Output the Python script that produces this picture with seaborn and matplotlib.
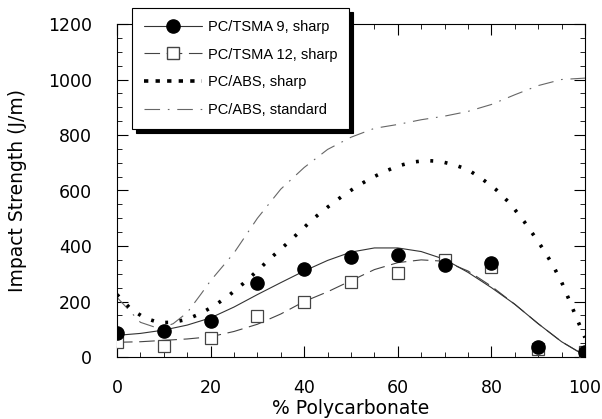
import numpy as np
import pandas as pd
import matplotlib
matplotlib.use("Agg")
import matplotlib.pyplot as plt
from matplotlib.lines import Line2D
from matplotlib.patches import Shadow
from matplotlib.ticker import MultipleLocator
import seaborn as sns

# measured data points
pc_pts = [0, 10, 20, 30, 40, 50, 60, 70, 80, 90, 100]
tsma9_pts = [85, 95, 131, 266, 317, 361, 367, 330, 338, 35, 17]
tsma12_pts = [53, 41, 69, 146, 197, 272, 302, 348, 324, 30, 17]

# fitted curves
curve_x = [0, 5, 10, 15, 20, 25, 30, 35, 40, 45, 50, 55, 60, 65, 70, 75, 80, 85, 90, 95, 100]
tsma9_fit = [78, 85, 97, 115, 141, 180, 225, 268, 310, 348, 378, 393, 393, 380, 352, 305, 250, 190, 120, 55, 5]
tsma12_fit = [53, 55, 60, 65, 73, 92, 118, 155, 200, 235, 275, 315, 340, 350, 345, 310, 255, 190, 120, 55, 5]

abs_sharp_x = [0, 3, 6, 9, 12, 15, 18, 21, 24, 27, 30, 33, 36, 39, 42, 45, 48, 51, 54, 57, 60, 63, 66,
               69, 72, 75, 78, 81, 84, 87, 89, 91, 93, 95, 97, 98.3, 100]
abs_sharp_y = [225, 172, 140, 124, 125, 136, 158, 187, 223, 265, 311, 359, 404, 451, 499, 540, 578, 612, 642, 667,
               688, 702, 708, 705, 693, 675, 642, 603, 553, 488, 440, 390, 335, 270, 190, 136, 70]

abs_std_x = [0, 5, 8, 10, 12, 15, 18, 20, 25, 30, 35, 40, 45, 50, 55, 60, 65, 70, 75, 80, 85, 90, 95, 100]
abs_std_y = [215, 125, 108, 108, 120, 160, 228, 275, 375, 500, 605, 683, 748, 792, 824, 838, 855, 868, 885,
             910, 945, 978, 1000, 1005]

labels = ["PC/TSMA 9, sharp", "PC/TSMA 12, sharp", "PC/ABS, sharp", "PC/ABS, standard"]

sns.set_style("ticks", {"text.color": "black", "axes.labelcolor": "black",
                        "xtick.color": "black", "ytick.color": "black",
                        "axes.edgecolor": "black"})
plt.rcParams['font.family'] = ['DejaVu Sans']

fig = plt.figure(figsize=(6.02, 4.19), dpi=100)
ax = fig.add_axes([117/602, 1 - 357/419, (585-117)/602, (357-24)/419])

lw_thin = 0.8
sty_t9 = dict(color="#333333", lw=lw_thin, linestyle="-")
sty_t12 = dict(color="#444444", lw=lw_thin, linestyle=(0, (14, 6)))
sty_abs_s = dict(color="black", lw=2.6, linestyle=(0, (0.8, 3.2)))
sty_abs_std = dict(color="#666666", lw=lw_thin, linestyle=(0, (14, 7, 1.5, 7)))

sns.lineplot(x=abs_std_x, y=abs_std_y, ax=ax, **sty_abs_std)
sns.lineplot(x=abs_sharp_x, y=abs_sharp_y, ax=ax, **sty_abs_s)
sns.lineplot(x=curve_x, y=tsma12_fit, ax=ax, **sty_t12)
sns.lineplot(x=curve_x, y=tsma9_fit, ax=ax, **sty_t9)

ax.plot(pc_pts, tsma12_pts, linestyle="none", marker="s", markersize=8.5,
        markerfacecolor="white", markeredgecolor="#444444", markeredgewidth=0.9, zorder=4)
ax.plot(pc_pts, tsma9_pts, linestyle="none", marker="o", markersize=9.5,
        markerfacecolor="black", markeredgecolor="black", zorder=5)

ax.set_xlim(0, 100)
ax.set_ylim(0, 1200)
ax.xaxis.set_major_locator(MultipleLocator(20))
ax.xaxis.set_minor_locator(MultipleLocator(5))
ax.yaxis.set_major_locator(MultipleLocator(200))
ax.yaxis.set_minor_locator(MultipleLocator(50))
ax.tick_params(which="both", direction="in", top=True, right=True, labelsize=12.5,
               color="black", labelcolor="black")
ax.tick_params(axis="x", which="major", pad=16)
ax.tick_params(axis="y", which="major", pad=18)
ax.tick_params(which="major", length=8, width=0.8)
ax.tick_params(which="minor", length=3.5, width=0.6)
for s in ax.spines.values():
    s.set_linewidth(0.8)
    s.set_color("black")
    s.set_visible(True)
ax.set_xlabel("% Polycarbonate", fontsize=13.5, labelpad=1, color="black")
ax.set_ylabel("Impact Strength (J/m)", fontsize=13.5, labelpad=15, color="black")

handles = [
    Line2D([], [], marker="o", markersize=9.5, markerfacecolor="black", markeredgecolor="black", **sty_t9),
    Line2D([], [], marker="s", markersize=8, markerfacecolor="white", markeredgecolor="#444444", **sty_t12),
    Line2D([], [], color="black", lw=2.6, linestyle=(0, (1.2, 2.0))),
    Line2D([], [], **sty_abs_std),
]
leg = fig.legend(handles, labels, loc="upper left", bbox_to_anchor=(132/602, 1 - 8/419),
                 borderaxespad=0, prop={"family": "Liberation Sans", "size": 10.5},
                 frameon=True, fancybox=False, framealpha=1, edgecolor="black",
                 shadow=False, handlelength=4.0, labelspacing=0.95,
                 borderpad=0.8, handletextpad=0.4, labelcolor="black")
leg.get_frame().set_linewidth(0.8)
leg.set_zorder(5)

fig.canvas.draw()
sh = Shadow(leg.legendPatch, 3.2, -3.2, color="black", alpha=1, zorder=4.9)
fig.add_artist(sh)

fig.savefig("out.png", dpi=100)
